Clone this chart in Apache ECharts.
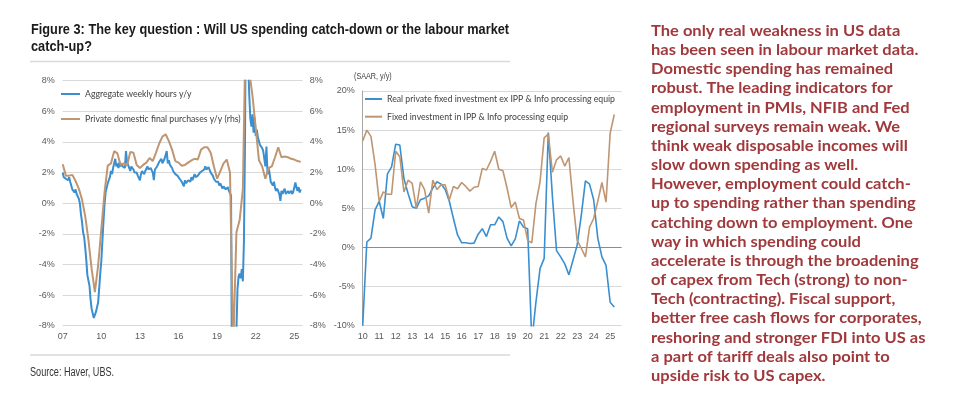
<!DOCTYPE html>
<html><head><meta charset="utf-8">
<script src="https://cdn.jsdelivr.net/npm/echarts@6/dist/echarts.min.js"></script>
<style>html,body{margin:0;padding:0;background:#fff}#c{width:956px;height:408px}</style>
</head><body><div id="c"></div>
<script>
// ---------- DATA ----------
// Left chart: monthly, Jan 2007 .. Jul 2025
const hoursStart = 2007;
const aggregateWeeklyHoursYoY = [
  2.0, 1.7, 1.8, 1.6, 1.6, 1.5, 1.7, 1.4, 1.4, 0.9, 1.0, 0.7,
  0.9, 0.6, 0.5, 0.3, 0.0, -0.7, -1.2, -1.9, -2.2, -2.9, -3.7, -4.7,
  -4.8, -5.4, -6.3, -6.9, -7.2, -7.5, -7.4, -7.1, -6.8, -6.5, -5.6, -4.6,
  -3.8, -2.5, -1.2, -0.1, 0.7, 1.0, 1.3, 1.2, 1.7, 2.1, 1.9, 2.3,
  2.2, 2.9, 2.4, 2.6, 2.3, 2.7, 2.4, 2.6, 2.4, 2.5, 2.3, 3.4,
  2.7, 2.5, 2.4, 2.1, 2.4, 2.4, 2.2, 2.0, 2.1, 2.0, 1.8, 1.7,
  1.5, 1.9, 2.1, 2.0, 1.9, 2.1, 2.2, 2.4, 2.2, 2.1, 2.3, 2.2,
  2.0, 1.5, 2.2, 2.3, 2.4, 2.5, 2.7, 2.6, 2.9, 2.6, 2.7, 2.9,
  3.0, 3.4, 2.6, 2.8, 2.5, 2.4, 2.3, 2.1, 2.0, 1.9, 1.8, 1.8,
  1.7, 1.6, 1.5, 1.4, 1.5, 1.1, 1.5, 1.3, 1.2, 1.5, 1.6, 1.4,
  1.7, 1.5, 1.6, 1.9, 1.7, 1.8, 1.8, 1.9, 2.0, 1.9, 2.1, 2.1,
  2.2, 2.4, 2.2, 2.3, 2.35, 2.3, 2.0, 1.9, 1.8, 1.6, 1.7, 1.4,
  1.5, 1.4, 1.15, 1.3, 1.25, 0.95, 1.1, 1.15, 0.9, 0.8, 1.05, 0.8,
  0.7, 0.5, -14.5, -12, -10, -9, -8.3, -5.6, -4.8, -4.6, -4.9, -4.3,
  -5.1, -2.5, 4.0, 16, 12, 9, 7.0, 5.5, 5.0, 5.8, 4.6, 5.6,
  4.4, 4.8, 4.3, 4.2, 3.8, 3.7, 3.6, 3.4, 3.3, 2.4, 3.7, 1.9,
  2.3, 1.9, 1.4, 1.3, 1.15, 1.4, 1.0, 0.8, 0.95, 0.9, 0.6, 0.15,
  0.8, 0.6, 0.8, 0.95, 0.6, 0.7, 0.8, 0.65, 0.7, 0.8, 0.6, 0.75,
  0.8, 1.35, 1.0, 0.8, 1.05, 0.7, 0.9
];
// Left chart: quarterly, plotted from Jan 2007
const pdfpStart = 2007;
const privateDomesticFinalPurchasesYoY = [
  2.55, 1.8, 1.8, 1.85, 1.45, 0.95, 0.25, -0.85, -2.4, -4.3,
  -5.8, -4.1, -1.7, 0.7, 2.45, 2.6, 3.4, 3.25, 2.5, 2.6,
  2.45, 3.35, 3.3, 2.5, 2.3, 2.5, 2.65, 2.95, 2.75, 3.3,
  3.9, 4.35, 4.5, 4.05, 3.5, 2.75, 2.65, 2.45, 2.5, 2.65,
  2.8, 2.9, 2.85, 3.5, 3.65, 3.65, 3.3, 2.4, 1.6, 2.1,
  2.6, 2.85, 2.0, -9.5, -1.9, -1.1, 0.9, 13, 8.6, 7.0,
  4.9, 2.8, 2.4, 1.6, 2.3, 2.4, 3.0, 3.65, 3.0, 3.05,
  3.0, 2.9, 2.85, 2.75, 2.7
];
const leftYearTicks = ['07', '10', '13', '16', '19', '22', '25'];

// Right chart: quarterly, 2010Q1 .. 2025Q2
const capexStart = 2010;
const realFixedInvExIPP = [
  -10.0, 0.7, 1.2, 4.8, 5.9, 3.7, 9.4, 10.3, 13.2, 13.1,
  8.8, 6.9, 5.2, 5.0, 6.1, 6.3, 6.6, 7.6, 8.4, 8.1,
  7.4, 5.9, 3.7, 1.6, 0.6, 0.6, 0.5, 0.55, 1.7, 2.4,
  1.4, 2.9, 2.9, 3.9, 3.3, 1.2, 0.2, 1.1, 3.4, 2.6,
  2.4, -12, -7, -2.7, -1.4, 14.7, 6.5, -0.4, -1.2, -2.1,
  -3.5, -1.6, 0.3, 4.1, 8.5, 8.1, 6.1, 1.2, -1.2, -2.3,
  -7.0, -7.6
];
const fixedInvIPPInfo = [
  13.6, 15.0, 14.2, 10.6, 5.9, 7.1, 6.8, 6.8, 12.3, 11.6,
  7.1, 8.6, 8.2, 5.0, 8.4, 7.4, 4.4, 8.6, 7.4, 8.0,
  8.0, 6.1, 7.8, 7.5, 8.3, 7.8, 7.2, 7.7, 7.8, 10.1,
  9.9, 11.0, 12.3, 10.0, 9.8, 7.6, 5.1, 5.8, 3.7, 3.5,
  0.9, 0.6, 5.6, 8.4, 14.0, 14.5, 9.6, 11.2, 11.7, 10.4,
  11.5, 5.9, 0.9, -0.1, -1.2, 2.6, 3.7, 5.9, 8.3, 5.8,
  14.6, 17.0
];
const rightYearTicks = ['10','11','12','13','14','15','16','17','18','19','20','21','22','23','24','25'];

const leftNames = ['Aggregate weekly hours y/y', 'Private domestic final purchases y/y (rhs)'];
const rightNames = ['Real private fixed investment ex IPP & Info processing equip', 'Fixed investment in IPP & Info processing equip'];

// ---------- CHART ----------
const SANS = "'Liberation Sans',Arial,sans-serif";
const BLUE = '#3a8fd0', BROWN = '#bf9672', GRID = '#d9d9d9', LBL = '#595959';

const monthly = (start, arr) => arr.map((v, i) => [start + i / 12, v]);
const quarterly = (start, arr) => arr.map((v, i) => [start + i / 4, v]);

function yearLabel(ticks, start, step) {
  return function (v) {
    const k = Math.round((v - start) / step);
    if (Math.abs(v - (start + k * step)) > 1e-6) return '';
    return ticks[k] !== undefined ? ticks[k] : '';
  };
}

const axisText = { color: LBL, fontSize: 9, fontFamily: SANS };
const legendText = { fontFamily: 'Lato, sans-serif', fontSize: 8.7, color: '#404040', lineHeight: 12 };

function oneLegend(name, left, top, w) {
  return { data: [name], orient: 'vertical', left: left, top: top, itemWidth: w, itemHeight: 2,
    icon: 'rect', selectedMode: false, padding: 0, itemGap: 0, textStyle: legendText };
}

const chart = echarts.init(document.getElementById('c'), null, { renderer: 'canvas' });
chart.setOption({
  animation: false,
  backgroundColor: '#fff',
  grid: [
    { left: 62.7, top: 80.7, width: 240, height: 245 },
    { left: 362.7, top: 91, width: 259, height: 234.7 }
  ],
  xAxis: [
    { gridIndex: 0, type: 'value', min: 2007, max: 2025.65, interval: 3,
      axisLine: { show: false }, axisTick: { show: false }, splitLine: { show: false },
      axisLabel: Object.assign({ margin: 6, formatter: yearLabel(leftYearTicks, 2007, 3) }, axisText) },
    { gridIndex: 1, type: 'value', min: 2010, max: 2025.7, interval: 1,
      axisLine: { show: false }, axisTick: { show: false }, splitLine: { show: false },
      axisLabel: Object.assign({ margin: 6, formatter: yearLabel(rightYearTicks, 2010, 1) }, axisText) }
  ],
  yAxis: [
    { gridIndex: 0, type: 'value', min: -8, max: 8, interval: 2, position: 'left',
      axisLine: { show: false }, axisTick: { show: false },
      splitLine: { lineStyle: { color: GRID, width: 1 } },
      axisLabel: Object.assign({ margin: 8, formatter: '{value}%' }, axisText) },
    { gridIndex: 0, type: 'value', min: -8, max: 8, interval: 2, position: 'right',
      axisLine: { show: false }, axisTick: { show: false }, splitLine: { show: false },
      axisLabel: Object.assign({ margin: 7, formatter: '{value}%' }, axisText) },
    { gridIndex: 1, type: 'value', min: -10, max: 20, interval: 5, position: 'left',
      axisLine: { show: true, lineStyle: { color: '#a6a6a6', width: 1 } }, axisTick: { show: false },
      splitLine: { lineStyle: { color: [GRID, GRID, '#8c8c8c', GRID, GRID, GRID, GRID], width: 1 } },
      axisLabel: Object.assign({ margin: 8, formatter: '{value}%' }, axisText) }
  ],
  legend: [
    oneLegend(leftNames[0], 61, 88, 19),
    oneLegend(leftNames[1], 61, 113, 19),
    oneLegend(rightNames[0], 365, 93, 17),
    oneLegend(rightNames[1], 365, 110.7, 17)
  ],
  series: [
    { name: leftNames[0], type: 'line', xAxisIndex: 0, yAxisIndex: 0, data: monthly(hoursStart, aggregateWeeklyHoursYoY),
      symbol: 'none', lineStyle: { color: BLUE, width: 2 }, itemStyle: { color: BLUE } },
    { name: leftNames[1], type: 'line', xAxisIndex: 0, yAxisIndex: 1, data: quarterly(pdfpStart, privateDomesticFinalPurchasesYoY),
      symbol: 'none', lineStyle: { color: BROWN, width: 2 }, itemStyle: { color: BROWN } },
    { name: rightNames[0], type: 'line', xAxisIndex: 1, yAxisIndex: 2, data: quarterly(capexStart, realFixedInvExIPP),
      symbol: 'none', lineStyle: { color: BLUE, width: 1.6 }, itemStyle: { color: BLUE } },
    { name: rightNames[1], type: 'line', xAxisIndex: 1, yAxisIndex: 2, data: quarterly(capexStart, fixedInvIPPInfo),
      symbol: 'none', lineStyle: { color: BROWN, width: 1.6 }, itemStyle: { color: BROWN } }
  ],
  graphic: [
    { type: 'text', x: 31, y: 21, scaleX: 0.85, silent: true,
      style: { text: 'Figure 3: The key question : Will US spending catch-down or the labour market\ncatch-up?',
        font: 'bold 15px ' + SANS, fill: '#1a1a1a', lineHeight: 17, verticalAlign: 'top', align: 'left' } },
    { type: 'line', silent: true, shape: { x1: 30, y1: 61.5, x2: 510, y2: 61.5 }, style: { stroke: GRID, lineWidth: 1.5 } },
    { type: 'line', silent: true, shape: { x1: 30, y1: 355, x2: 510, y2: 355 }, style: { stroke: GRID, lineWidth: 1.5 } },
    { type: 'text', x: 30, y: 367, scaleX: 0.76, silent: true,
      style: { text: 'Source: Haver, UBS.', font: '12px ' + SANS, fill: '#333333', verticalAlign: 'top', align: 'left' } },
    { type: 'text', x: 354, y: 72.5, scaleX: 0.85, silent: true,
      style: { text: '(SAAR, y/y)', font: '8.5px ' + SANS, fill: '#404040', verticalAlign: 'top', align: 'left' } },
    { type: 'text', x: 651, y: 21.5, scaleX: 1.1, silent: true,
      style: { text: [
        'The only real weakness in US data',
        'has been seen in labour market data.',
        'Domestic spending has remained',
        'robust. The leading indicators for',
        'employment in PMIs, NFIB and Fed',
        'regional surveys remain weak. We',
        'think weak disposable incomes will',
        'slow down spending as well.',
        'However, employment could catch-',
        'up to spending rather than spending',
        'catching down to employment. One',
        'way in which spending could',
        'accelerate is through the broadening',
        'of capex from Tech (strong) to non-',
        'Tech (contracting). Fiscal support,',
        'better free cash flows for corporates,',
        'reshoring and stronger FDI into US as',
        'a part of tariff deals also point to',
        'upside risk to US capex.'
      ].join('\n'), font: 'bold 15px Lato, sans-serif', fill: '#a0393c', lineHeight: 19.17, verticalAlign: 'top', align: 'left' } }
  ]
});
</script></body></html>
